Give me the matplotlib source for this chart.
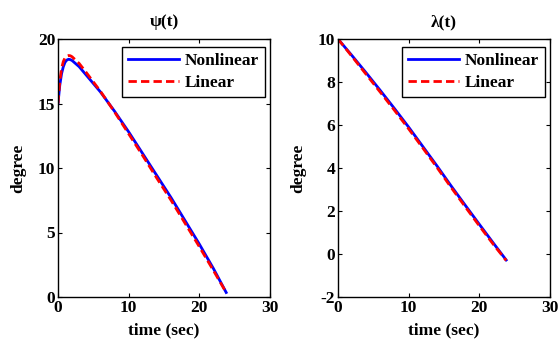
import matplotlib
matplotlib.use("Agg")
import matplotlib.pyplot as plt

plt.rcParams['font.family'] = ['Liberation Serif', 'DejaVu Serif']
plt.rcParams['font.weight'] = 'bold'
plt.rcParams['axes.unicode_minus'] = False

# psi(t) data
t_psi = [0, 0.25, 0.5, 0.75, 1, 1.25, 1.5, 1.75, 2, 3, 4, 6, 8, 10, 12, 14, 16, 18, 20, 22, 23.8]
psi_nonlinear = [15, 16.4, 17.3, 17.85, 18.2, 18.37, 18.43, 18.4, 18.33, 17.85, 17.2, 15.9, 14.4, 12.8, 11.1, 9.4, 7.7, 5.9, 4.1, 2.2, 0.35]
psi_linear = [15, 16.7, 17.7, 18.25, 18.55, 18.68, 18.72, 18.7, 18.62, 18.1, 17.4, 15.95, 14.35, 12.65, 10.95, 9.2, 7.5, 5.7, 3.9, 2.05, 0.35]

# lambda(t) data
t_lam = [0, 2, 4, 6, 8, 10, 12, 14, 16, 18, 20, 22, 23.8]
lam_nonlinear = [10, 9.22, 8.42, 7.6, 6.76, 5.9, 5.0, 4.1, 3.17, 2.27, 1.38, 0.5, -0.28]
lam_linear = [10, 9.18, 8.35, 7.52, 6.68, 5.82, 4.93, 4.03, 3.1, 2.2, 1.31, 0.44, -0.3]

fig = plt.figure(figsize=(5.58, 3.42), dpi=100)
W, H = 558, 342

def make_ax(x0):
    return fig.add_axes([x0 / W, 1 - 297 / H, 212 / W, 258 / H])

fs = 12.5
axes_specs = [
    (58, t_psi, psi_nonlinear, psi_linear, 'ψ(t)', (0, 20), [0, 5, 10, 15, 20]),
    (338, t_lam, lam_nonlinear, lam_linear, 'λ(t)', (-2, 10), [-2, 0, 2, 4, 6, 8, 10]),
]
for x0, t, nl, li, title, ylim, yt in axes_specs:
    ax = make_ax(x0)
    ax.plot(t, nl, color='#0000ff', lw=2, label='Nonlinear')
    ax.plot(t, li, color='#ff0000', lw=2, ls=(0, (3, 1.5)), label='Linear')
    ax.set_xlim(0, 30)
    ax.set_ylim(*ylim)
    ax.set_xticks([0, 10, 20, 30])
    ax.set_yticks(yt)
    ax.tick_params(direction='in', top=True, right=True, length=3, labelsize=fs, width=0.8, pad=2)
    for lab in ax.get_xticklabels() + ax.get_yticklabels():
        lab.set_fontweight('bold')
    for s in ax.spines.values():
        s.set_linewidth(1.0)
    ax.set_title(title, fontsize=fs, fontweight='bold', pad=9)
    ax.set_xlabel('time (sec)', fontsize=fs, fontweight='bold', labelpad=5)
    ax.set_ylabel('degree', fontsize=fs, fontweight='bold', labelpad=8)
    leg = ax.legend(loc='upper right', bbox_to_anchor=(0.976, 0.969), borderaxespad=0,
                    fancybox=False, edgecolor='black', framealpha=1, handlelength=2.9,
                    prop={'weight': 'bold', 'size': fs}, borderpad=0.35, labelspacing=0.3,
                    handletextpad=0.35)
    leg.get_frame().set_linewidth(1.0)

fig.savefig('out.png', dpi=100)
